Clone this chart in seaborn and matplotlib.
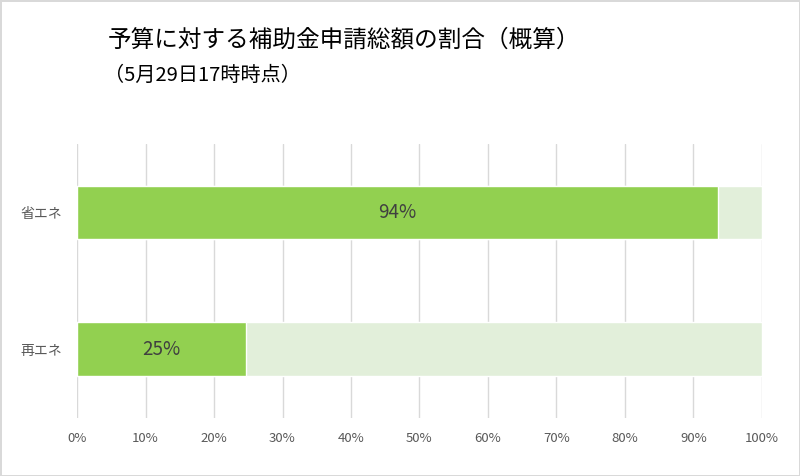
import matplotlib
matplotlib.use("Agg")
import matplotlib.pyplot as plt
import seaborn as sns
import pandas as pd
from matplotlib.ticker import PercentFormatter

sns.set_theme(style="white")
plt.rcParams['font.family'] = ['Noto Sans CJK JP', 'DejaVu Sans']

# data
categories = ["省エネ", "再エネ"]
ratio = [93.6, 24.7]
ratio_labels = ["94%", "25%"]
budget = [100, 100]

df = pd.DataFrame({"cat": categories, "ratio": ratio, "budget": budget})

fig = plt.figure(figsize=(8, 4.76), dpi=100)
fig.patch.set_edgecolor("#D9D9D9")
fig.patch.set_linewidth(1)
ax = fig.add_axes([0.09625, 0.1218, 0.85625, 0.5756])

# light background bar = whole budget, green bar = applied amount
sns.barplot(data=df, x="budget", y="cat", orient="h", color="#E2EFDA",
            saturation=1, width=0.39, ax=ax, zorder=2)
sns.barplot(data=df, x="ratio", y="cat", orient="h", color="#92D050",
            saturation=1, width=0.39, ax=ax, zorder=3)

for i, (v, lab) in enumerate(zip(ratio, ratio_labels)):
    ax.text(v / 2, i, lab, ha="center", va="center", fontsize=13.5,
            color="#404040", zorder=4)

ax.set_xlim(0, 100)
ax.set_ylim(1.505, -0.502)
ax.xaxis.set_major_formatter(PercentFormatter(decimals=0))
ax.set_xticks(range(0, 101, 10))
ax.grid(axis="x", color="#D9D9D9", linewidth=1, zorder=0)
ax.set_axisbelow(True)
sns.despine(ax=ax, left=True, bottom=True)
ax.tick_params(axis="y", length=0, pad=11, labelsize=10, labelcolor="#595959")
ax.tick_params(axis="x", length=0, pad=10, labelsize=9.5, labelcolor="#595959")
ax.set_xlabel("")
ax.set_ylabel("")

fig.text(0.135, 0.915, "予算に対する補助金申請総額の割合（概算）", fontsize=17,
         color="#000000", va="center", ha="left")
fig.text(0.13, 0.842, "（5月29日17時時点）", fontsize=14.5,
         color="#000000", va="center", ha="left")

fig.savefig("out.png", dpi=100, edgecolor=fig.get_edgecolor())
